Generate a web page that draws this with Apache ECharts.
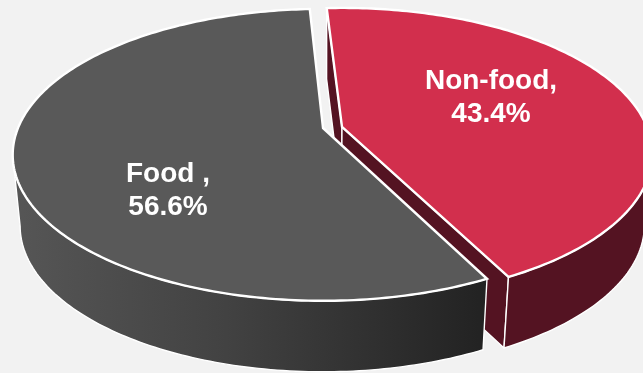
<!DOCTYPE html>
<html>
<head>
<meta charset="utf-8">
<style>
  html, body { margin: 0; padding: 0; background: #f2f2f2; }
  #chart { width: 643px; height: 373px; }
</style>
<script src="https://cdn.jsdelivr.net/npm/echarts@6/dist/echarts.min.js"></script>
</head>
<body>
<div id="chart"></div>
<script>
// Share of spending by category, drawn clockwise from each slice's start angle.
const categories = ['Non-food,', 'Food ,'];
const shares = [43.4, 56.6];

// Slice appearance and placement, indexed like the categories.
const topColors = ['#d22f4d', '#595959'];
const wallColors = ['#541322', '#2a2a2a'];
const apexes = [[342, 127], [323, 128]];
const startAngles = [-3.4, 153.3];
const labelCentres = [[491, 97.5], [168, 191]];

// Tilted-disc projection: radii, perspective strength and extrusion.
const RADIUS_X = 305;
const RADIUS_Y = 141;
const PERSPECTIVE = 0.184;
const DEPTH = 71;
const LOWER_SCALE = 0.976;
const VANISH_X = 322;
const ARC_STEP = 1;

const total = shares.reduce((a, b) => a + b, 0);

function project(apex, deg) {
  const t = deg * Math.PI / 180;
  const f = 1 / (1 + PERSPECTIVE * Math.cos(t));
  return [apex[0] + RADIUS_X * Math.sin(t) * f, apex[1] - RADIUS_Y * Math.cos(t) * f];
}

function lower(p) {
  return [VANISH_X + (p[0] - VANISH_X) * LOWER_SCALE, p[1] + DEPTH];
}

function arc(apex, from, to) {
  const pts = [];
  const n = Math.ceil((to - from) / ARC_STEP);
  for (let i = 0; i <= n; i++) pts.push(project(apex, from + (to - from) * i / n));
  return pts;
}

// Part of the rim that faces the viewer: the extrusion edge points outward there.
function frontRim(apex, from, to) {
  const rim = arc(apex, from, to);
  return rim.filter((p, i) => {
    const a = rim[Math.max(i - 1, 0)];
    const b = rim[Math.min(i + 1, rim.length - 1)];
    return b[0] - a[0] < 0;
  });
}

function poly(points, style, z2) {
  return { type: 'polygon', shape: { points }, style, z2 };
}

function renderSlice(params, api) {
  const idx = params.dataIndex;
  const from = startAngles[idx];
  const to = from + api.value(0) / total * 360;
  const apex = apexes[idx];
  const edge = { stroke: '#ffffff', lineWidth: 1.4, lineJoin: 'round' };
  const children = [];

  // The inner cut faces show only on the slice that sits behind the other.
  if (idx === 0) {
    [from, to].forEach((deg) => {
      const p = project(apex, deg);
      children.push(poly([apex, p, lower(p), lower(apex)],
        Object.assign({ fill: wallColors[idx] }, edge)));
    });
  }

  const rim = frontRim(apex, from, to);
  const band = rim.concat(rim.map(lower).reverse());
  const bandFill = idx === 0 ? wallColors[idx] : {
    type: 'linear', global: true, x: 13, y: 0, x2: 487, y2: 0,
    colorStops: [
      { offset: 0, color: '#565656' },
      { offset: 0.45, color: '#424242' },
      { offset: 1, color: '#222222' }
    ]
  };
  children.push(poly(band, Object.assign({ fill: bandFill }, edge)));

  children.push(poly([apex].concat(arc(apex, from, to)),
    { fill: topColors[idx], stroke: '#ffffff', lineWidth: 2.4, lineJoin: 'miter' }));

  children.push({
    type: 'text',
    z2: 10,
    style: {
      text: categories[idx] + '\n' + api.value(0).toFixed(1) + '%',
      x: labelCentres[idx][0],
      y: labelCentres[idx][1],
      fill: '#ffffff',
      fontFamily: '"Liberation Sans", Arial, sans-serif',
      fontWeight: 'bold',
      fontSize: 28,
      lineHeight: 33,
      align: 'center',
      verticalAlign: 'middle'
    }
  });

  return { type: 'group', children };
}

const chart = echarts.init(document.getElementById('chart'), null, { renderer: 'canvas' });
chart.setOption({
  animation: false,
  backgroundColor: '#f2f2f2',
  series: [{
    type: 'custom',
    coordinateSystem: 'none',
    silent: true,
    renderItem: renderSlice,
    data: shares.map((v) => [v])
  }]
});
</script>
</body>
</html>
